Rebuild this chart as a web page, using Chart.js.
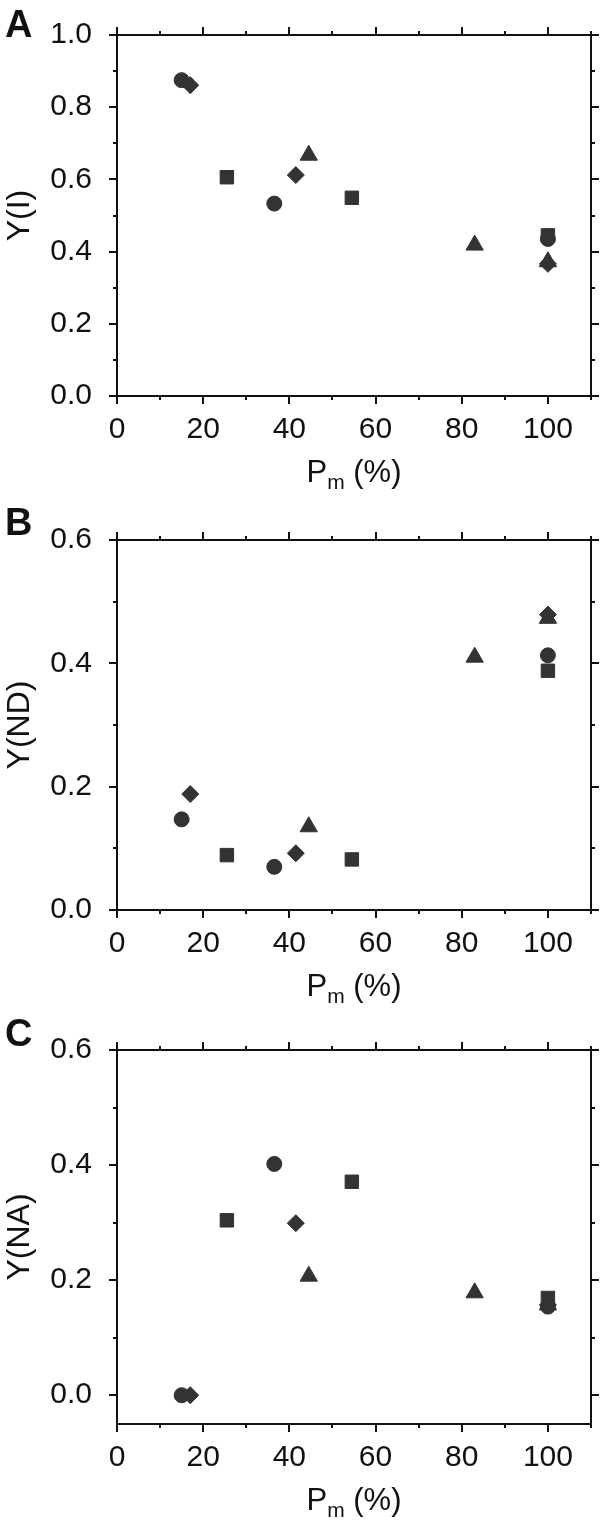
<!DOCTYPE html>
<html>
<head>
<meta charset="utf-8">
<script src="https://cdn.jsdelivr.net/npm/chart.js@4.4.1/dist/chart.umd.min.js"></script>
<style>
  html, body { margin: 0; padding: 0; background: #fff; }
  #wrap { position: relative; width: 603px; height: 1522px; }
  canvas { position: absolute; left: 0; }
</style>
</head>
<body>
<div id="wrap">
  <canvas id="panelA" width="603" height="505" style="top:0px"></canvas>
  <canvas id="panelB" width="603" height="510" style="top:505px"></canvas>
  <canvas id="panelC" width="603" height="507" style="top:1015px"></canvas>
</div>
<script>
// P_m (%) positions, one list per marker shape
const pmCircle   = [15, 36.5, 100];
const pmDiamond  = [17, 41.5, 100];
const pmSquare   = [25.5, 54.5, 100];
const pmTriangle = [44.5, 83, 100];

// panel A: Y(I)
const yICircle   = [0.875, 0.533, 0.435];
const yIDiamond  = [0.861, 0.612, 0.366];
const yISquare   = [0.606, 0.549, 0.445];
const yITriangle = [0.667, 0.418, 0.372];

// panel B: Y(ND)
const yNDCircle   = [0.147, 0.070, 0.413];
const yNDDiamond  = [0.188, 0.092, 0.479];
const yNDSquare   = [0.089, 0.082, 0.388];
const yNDTriangle = [0.135, 0.410, 0.473];

// panel C: Y(NA)
const yNACircle   = [0.000, 0.402, 0.154];
const yNADiamond  = [0.000, 0.299, 0.157];
const yNASquare   = [0.304, 0.371, 0.169];
const yNATriangle = [0.207, 0.178, 0.157];

// ticks
const xMajorTicks = [0, 20, 40, 60, 80, 100];
const xMinorTicks = [10, 30, 50, 70, 90, 110];
const yIMajorTicks = [0, 0.2, 0.4, 0.6, 0.8, 1.0];
const yIMinorTicks = [0.1, 0.3, 0.5, 0.7, 0.9];
const ySmallMajorTicks = [0, 0.2, 0.4, 0.6];
const ySmallMinorTicks = [0.1, 0.3, 0.5];

const INK = '#111';
const MARK = '#333';
const FONT = '"Liberation Sans", Arial, sans-serif';
const NARROW = '"Liberation Sans Narrow", "Arial Narrow", "Liberation Sans", sans-serif';

// frame, mirrored ticks, x title and panel letter
const framePlugin = {
  id: 'frame',
  afterDraw(chart, args, opts) {
    const { ctx, chartArea: a, scales: { x, y } } = chart;
    ctx.save();
    ctx.strokeStyle = INK;
    ctx.lineWidth = 2;
    ctx.strokeRect(a.left, a.top, a.right - a.left, a.bottom - a.top);

    const tick = (x1, y1, x2, y2) => {
      ctx.beginPath();
      ctx.moveTo(x1, y1);
      ctx.lineTo(x2, y2);
      ctx.stroke();
    };
    const xTicks = (vals, len) => vals.forEach(v => {
      const px = Math.round(x.getPixelForValue(v));
      tick(px, a.bottom, px, a.bottom + len);
      tick(px, a.top, px, a.top - len);
    });
    const yTicks = (vals, len) => vals.forEach(v => {
      const py = Math.round(y.getPixelForValue(v));
      tick(a.left, py, a.left - len, py);
      tick(a.right, py, a.right + len, py);
    });
    xTicks(xMajorTicks, 8);
    xTicks(xMinorTicks, 4);
    yTicks(opts.yMajor, 8);
    yTicks(opts.yMinor, 4);

    // x axis title with subscript
    ctx.fillStyle = INK;
    ctx.textBaseline = 'alphabetic';
    const big = '31px ' + FONT;
    const small = '21px ' + FONT;
    ctx.font = big;
    const wP = ctx.measureText('P').width;
    const wRest = ctx.measureText(' (%)').width;
    ctx.font = small;
    const wM = ctx.measureText('m').width;
    const total = wP + wM + wRest;
    let tx = (a.left + a.right) / 2 - total / 2;
    const base = a.bottom + 86;
    ctx.font = big;
    ctx.fillText('P', tx, base);
    tx += wP;
    ctx.font = small;
    ctx.fillText('m', tx, base + 7);
    tx += wM;
    ctx.font = big;
    ctx.fillText(' (%)', tx, base);

    // panel letter
    ctx.font = 'bold 38px ' + FONT;
    ctx.fillText(opts.letter, 5, opts.letterBase);
    ctx.restore();
  }
};

function shape(style, xs, ys, radius) {
  return {
    data: xs.map((v, i) => ({ x: v, y: ys[i] })),
    pointStyle: style,
    pointRadius: radius,
    pointHoverRadius: radius,
    backgroundColor: MARK,
    borderColor: MARK,
    borderWidth: 1,
    showLine: false
  };
}

function makePanel(id, cfg) {
  const datasets = [
    shape('circle', pmCircle, cfg.circle, 7.5),
    shape('triangle', pmTriangle, cfg.triangle, 10),
    shape('rectRot', pmDiamond, cfg.diamond, 8.5),
    shape('rect', pmSquare, cfg.square, 9.5)
  ];
  return new Chart(document.getElementById(id), {
    type: 'scatter',
    data: { datasets },
    options: {
      responsive: false,
      animation: false,
      events: [],
      layout: { padding: { top: cfg.padTop, right: 12, left: 0, bottom: 0 } },
      plugins: {
        legend: { display: false },
        tooltip: { enabled: false },
        frame: { yMajor: cfg.yMajor, yMinor: cfg.yMinor, letter: cfg.letter, letterBase: cfg.letterBase }
      },
      scales: {
        x: {
          type: 'linear',
          min: 0,
          max: 110,
          afterBuildTicks: s => { s.ticks = xMajorTicks.map(v => ({ value: v })); },
          afterFit: s => { s.height = cfg.xHeight; },
          grid: { display: false },
          border: { display: false },
          ticks: { padding: 8, color: INK, font: { family: NARROW, size: 30 }, maxRotation: 0, autoSkip: false }
        },
        y: {
          type: 'linear',
          min: cfg.yMin,
          max: cfg.yMax,
          afterBuildTicks: s => { s.ticks = cfg.yMajor.map(v => ({ value: v })); },
          afterFit: s => { s.width = 117; },
          grid: { display: false },
          border: { display: false },
          ticks: {
            padding: 17,
            color: INK,
            font: { family: NARROW, size: 30 },
            autoSkip: false,
            callback: v => v.toFixed(1)
          },
          title: {
            display: true,
            text: cfg.yTitle,
            color: INK,
            font: { family: FONT, size: 32 },
            padding: { top: 1, bottom: 0 }
          }
        }
      }
    },
    plugins: [framePlugin]
  });
}

makePanel('panelA', {
  letter: 'A', letterBase: 37, yTitle: 'Y(I)',
  padTop: 15, xHeight: 109, yMin: 0, yMax: 1.0,
  yMajor: yIMajorTicks, yMinor: yIMinorTicks,
  circle: yICircle, diamond: yIDiamond, square: yISquare, triangle: yITriangle
});

makePanel('panelB', {
  letter: 'B', letterBase: 30, yTitle: 'Y(ND)',
  padTop: 26, xHeight: 105, yMin: 0, yMax: 0.6,
  yMajor: ySmallMajorTicks, yMinor: ySmallMinorTicks,
  circle: yNDCircle, diamond: yNDDiamond, square: yNDSquare, triangle: yNDTriangle
});

makePanel('panelC', {
  letter: 'C', letterBase: 31, yTitle: 'Y(NA)',
  padTop: 29, xHeight: 98, yMin: -0.05, yMax: 0.6,
  yMajor: ySmallMajorTicks, yMinor: ySmallMinorTicks,
  circle: yNACircle, diamond: yNADiamond, square: yNASquare, triangle: yNATriangle
});
</script>
</body>
</html>
